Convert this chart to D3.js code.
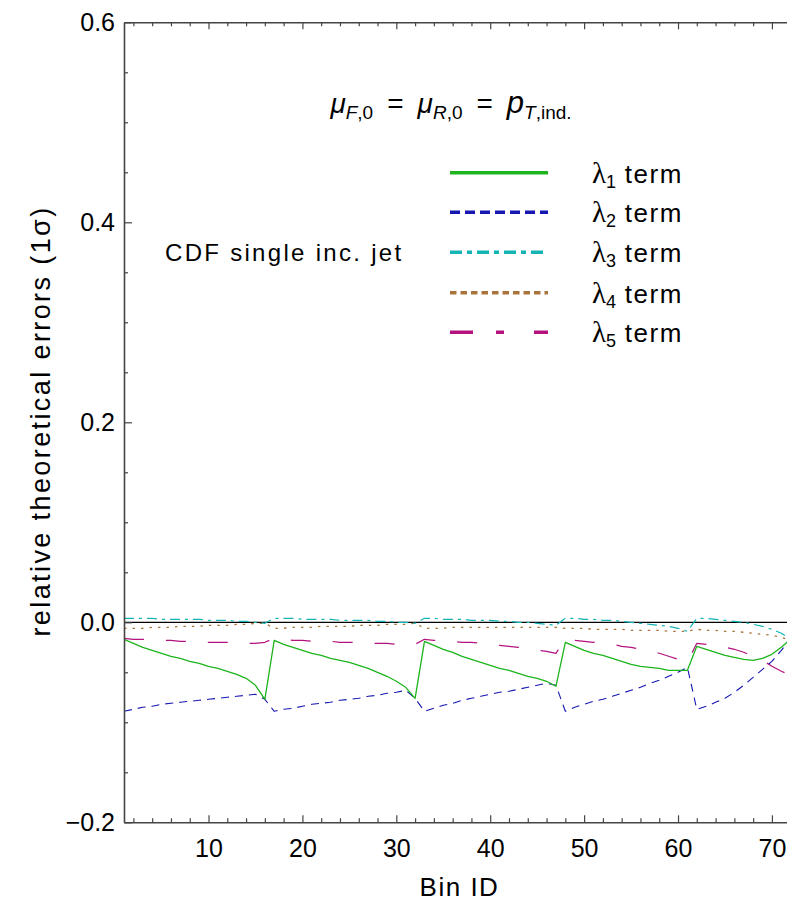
<!DOCTYPE html>
<html><head><meta charset="utf-8">
<script src="https://d3js.org/d3.v7.min.js"></script>
<style>
html,body{margin:0;padding:0;background:#fff;}
svg{display:block;}
text{font-family:"Liberation Sans",Arial,Helvetica,sans-serif;fill:#000;}
</style></head>
<body>
<svg id="chart" width="787" height="901"></svg>
<script>
// ---------------- data ----------------
const binIds = d3.range(1, 73); // Bin ID 1..72
const lambda1 = [
  -0.017,-0.021,-0.025,-0.028,-0.031,-0.034,-0.036,-0.039,-0.041,-0.044,-0.046,-0.049,-0.052,-0.056,-0.063,-0.077,
  -0.018,-0.022,-0.025,-0.028,-0.031,-0.033,-0.036,-0.038,-0.040,-0.043,-0.046,-0.050,-0.054,-0.059,-0.065,-0.076,
  -0.019,-0.023,-0.027,-0.030,-0.034,-0.037,-0.040,-0.043,-0.046,-0.048,-0.051,-0.054,-0.056,-0.059,-0.064,
  -0.020,-0.024,-0.028,-0.031,-0.033,-0.036,-0.039,-0.042,-0.044,-0.045,-0.046,-0.048,-0.048,-0.048,
  -0.024,-0.027,-0.030,-0.033,-0.035,-0.037,-0.038,-0.036,-0.032,-0.025,-0.017
];
const lambda2 = [
  -0.089,-0.087,-0.085,-0.084,-0.082,-0.081,-0.080,-0.079,-0.078,-0.077,-0.076,-0.075,-0.074,-0.073,-0.072,-0.077,
  -0.089,-0.087,-0.086,-0.084,-0.082,-0.081,-0.080,-0.078,-0.077,-0.076,-0.074,-0.073,-0.071,-0.070,-0.068,-0.076,
  -0.089,-0.086,-0.083,-0.081,-0.078,-0.076,-0.074,-0.072,-0.070,-0.069,-0.067,-0.065,-0.063,-0.061,-0.063,
  -0.089,-0.085,-0.082,-0.079,-0.077,-0.074,-0.071,-0.068,-0.065,-0.061,-0.058,-0.054,-0.050,-0.045,
  -0.087,-0.084,-0.080,-0.076,-0.070,-0.063,-0.055,-0.047,-0.039,-0.028,-0.017
];
const lambda3 = [
  0.004,0.004,0.004,0.004,0.003,0.003,0.003,0.003,0.003,0.002,0.002,0.002,0.001,0.001,0.000,-0.001,
  0.004,0.004,0.004,0.003,0.003,0.003,0.003,0.002,0.002,0.002,0.002,0.001,0.001,0.000,0.000,-0.001,
  0.004,0.004,0.003,0.003,0.003,0.002,0.002,0.002,0.001,0.001,0.000,0.000,-0.001,-0.002,-0.003,
  0.004,0.004,0.003,0.003,0.002,0.002,0.001,0.000,-0.001,-0.002,-0.003,-0.004,-0.006,-0.009,
  0.004,0.004,0.003,0.002,0.001,0.000,-0.002,-0.004,-0.007,-0.011,-0.017
];
const lambda4 = [
  -0.006,-0.006,-0.006,-0.005,-0.005,-0.005,-0.004,-0.004,-0.004,-0.003,-0.003,-0.003,-0.002,-0.002,-0.001,-0.001,
  -0.006,-0.006,-0.005,-0.005,-0.005,-0.004,-0.004,-0.004,-0.004,-0.003,-0.003,-0.003,-0.002,-0.002,-0.002,-0.001,
  -0.006,-0.006,-0.006,-0.005,-0.005,-0.005,-0.005,-0.005,-0.005,-0.005,-0.005,-0.005,-0.005,-0.005,-0.005,
  -0.006,-0.006,-0.006,-0.007,-0.007,-0.007,-0.007,-0.008,-0.008,-0.008,-0.008,-0.009,-0.009,-0.009,
  -0.007,-0.008,-0.008,-0.009,-0.009,-0.010,-0.011,-0.012,-0.013,-0.015,-0.018
];
const lambda5 = [
  -0.016,-0.017,-0.017,-0.018,-0.018,-0.018,-0.019,-0.019,-0.019,-0.020,-0.020,-0.020,-0.020,-0.021,-0.021,-0.020,
  -0.016,-0.017,-0.018,-0.018,-0.019,-0.019,-0.019,-0.020,-0.020,-0.020,-0.021,-0.021,-0.021,-0.022,-0.022,-0.022,
  -0.017,-0.018,-0.018,-0.019,-0.020,-0.020,-0.021,-0.022,-0.023,-0.024,-0.025,-0.026,-0.028,-0.029,-0.031,
  -0.017,-0.018,-0.019,-0.020,-0.021,-0.022,-0.024,-0.025,-0.027,-0.028,-0.031,-0.034,-0.037,-0.040,
  -0.021,-0.022,-0.023,-0.025,-0.027,-0.030,-0.034,-0.038,-0.044,-0.049,-0.053
];
const seriesNames = ["1", "2", "3", "4", "5"];
const xTickValues = [10, 20, 30, 40, 50, 60, 70];
const yTickValues = [-0.2, 0.0, 0.2, 0.4, 0.6];

// ---------------- layout ----------------
const svg = d3.select("#chart");
const x = d3.scaleLinear().domain([1, 72]).range([124, 790.7]);
const y = d3.scaleLinear().domain([-0.2, 0.6]).range([822.3, 22.3]);
const frameColor = "#444";

const styles = [
  {color:"#1db41d", dash:null,        lw:1.3, ldash:null},
  {color:"#1616b0", dash:"8,6",       lw:1.1, ldash:"10,5"},
  {color:"#14b4b4", dash:"10,5,3,5",  lw:1.2, ldash:"12,5,5,5"},
  {color:"#a8743c", dash:"2.5,6",     lw:1.3, ldash:"6.5,4"},
  {color:"#b4127e", dash:"20,22",     lw:1.2, ldash:"23,23,8,30"}
];
const allSeries = [lambda1, lambda2, lambda3, lambda4, lambda5];

svg.append("clipPath").attr("id","clip").append("rect")
  .attr("x", x(1)).attr("y", y(0.6)).attr("width", 787 - x(1)).attr("height", y(-0.2) - y(0.6));

// zero line
svg.append("line").attr("x1", x(1)).attr("x2", 787).attr("y1", y(0)).attr("y2", y(0))
  .attr("stroke", "#000").attr("stroke-width", 1.2);

// curves
const line = d3.line().x((d,i)=>x(binIds[i])).y(d=>y(d));
const gLines = svg.append("g").attr("clip-path","url(#clip)");
[4,3,2,1,0].forEach(k=>{
  gLines.append("path").datum(allSeries[k]).attr("d", line)
    .attr("fill","none").attr("stroke", styles[k].color)
    .attr("stroke-width", styles[k].lw)
    .attr("stroke-dasharray", styles[k].dash)
    .attr("stroke-linejoin","round");
});

// axes
function styleAxis(g){
  g.select(".domain").attr("stroke", frameColor).attr("stroke-width", 1.6);
  g.selectAll(".tick line").attr("stroke", frameColor).attr("stroke-width", 1.2);
  g.selectAll("text").style("font-family", '"Liberation Sans",Arial,sans-serif').attr("fill","#000");
}
const xMinor = d3.range(2, 73, 2).filter(v => v % 10 !== 0);
const yMinor = d3.range(-0.2, 0.6001, 0.05).filter(v => Math.abs(Math.round(v*10)/10 - v) > 1e-6 || Math.abs(Math.round(v*10) % 2) === 1);

// bottom
const gB = svg.append("g").attr("transform", `translate(0,${y(-0.2)})`)
  .call(d3.axisBottom(x).tickValues(xTickValues).tickSize(-7).tickPadding(17).tickSizeOuter(0).tickFormat(d3.format("d")));
gB.selectAll("text").style("font-size","25px");
gB.append("g").call(d3.axisBottom(x).tickValues(xMinor).tickSize(-4).tickFormat("").tickSizeOuter(0)).select(".domain").remove();
styleAxis(gB);
// top
const gT = svg.append("g").attr("transform", `translate(0,${y(0.6)})`)
  .call(d3.axisTop(x).tickValues(xTickValues).tickSize(-7).tickFormat("").tickSizeOuter(0));
gT.append("g").call(d3.axisTop(x).tickValues(xMinor).tickSize(-4).tickFormat("").tickSizeOuter(0)).select(".domain").remove();
styleAxis(gT);
// left
const gL = svg.append("g").attr("transform", `translate(${x(1)},0)`)
  .call(d3.axisLeft(y).tickValues(yTickValues).tickSize(-8).tickPadding(9).tickSizeOuter(0)
    .tickFormat(d => d < 0 ? "\u2212" + d3.format(".1f")(-d) : d3.format(".1f")(d)));
gL.selectAll("text").style("font-size","25px");
gL.append("g").call(d3.axisLeft(y).tickValues(yMinor).tickSize(-4).tickFormat("").tickSizeOuter(0)).select(".domain").remove();
styleAxis(gL);

// axis labels
svg.append("text").attr("x", (x(1)+787)/2 + 4).attr("y", 896).attr("text-anchor","middle")
  .style("font-size","26px").style("letter-spacing","1.5px").text("Bin ID");
svg.append("text").attr("transform", `translate(50,${421}) rotate(-90)`).attr("text-anchor","middle")
  .style("font-size","27px").style("letter-spacing","2.4px")
  .text("relative theoretical errors (1\u03C3)");

// annotation
svg.append("text").attr("x", 165).attr("y", 261).style("font-size","24px").style("letter-spacing","2.3px")
  .text("CDF single inc. jet");

const t = svg.append("text").attr("x", 451).attr("y", 113).attr("text-anchor","middle").style("font-size","28px");
t.append("tspan").style("font-style","italic").text("\u03BC");
t.append("tspan").attr("dy", 6).style("font-size","19px").style("font-style","italic").text("F");
t.append("tspan").style("font-size","19px").text(",0");
t.append("tspan").attr("dy", -6).text("\u2002=\u2002");
t.append("tspan").style("font-style","italic").text("\u03BC");
t.append("tspan").attr("dy", 6).style("font-size","19px").style("font-style","italic").text("R");
t.append("tspan").style("font-size","19px").text(",0");
t.append("tspan").attr("dy", -6).text("\u2002=\u2002");
t.append("tspan").style("font-style","italic").style("font-size","31px").text("p");
t.append("tspan").attr("dy", 6).style("font-size","19px").style("font-style","italic").text("T");
t.append("tspan").style("font-size","19px").text(",ind.");

// legend
const legY = [172.7, 212.3, 252.3, 292.7, 332.3];
seriesNames.forEach((n,i)=>{
  svg.append("line").attr("x1",450).attr("x2",548).attr("y1",legY[i]).attr("y2",legY[i])
    .attr("stroke", styles[i].color).attr("stroke-width", 3.6).attr("stroke-dasharray", styles[i].ldash);
  const lt = svg.append("text").attr("x", 592).attr("y", legY[i] + 10).style("font-size","26px");
  lt.append("tspan").style("font-family",'"Liberation Serif","Times New Roman",serif').style("font-size","29px").text("\u03BB");
  lt.append("tspan").attr("dy", 5).style("font-size","18px").text(n);
  lt.append("tspan").attr("dy", -5).style("letter-spacing","1.5px").text(" term");
});
</script>
</body></html>
